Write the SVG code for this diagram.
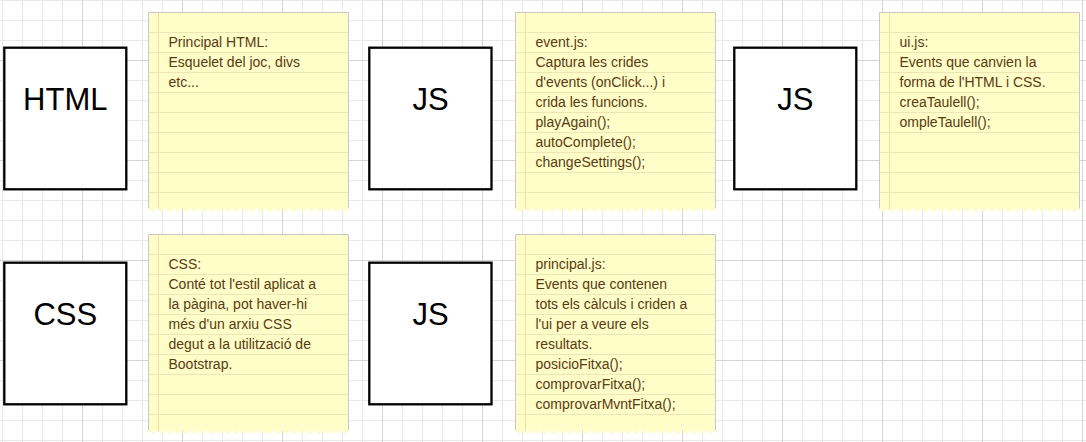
<svg xmlns="http://www.w3.org/2000/svg" width="1086" height="442" viewBox="0 0 1086 442">
<style>
.box{fill:#fff;stroke:#000;stroke-width:2.3}
.lbl{font-family:"Liberation Sans",Arial,sans-serif;font-size:31px;fill:#000;text-anchor:middle}
.paper{fill:#fffdc8}
.edge{fill:none;stroke:#c8c8c8;stroke-width:1}
.rule{stroke:#ece5b4;stroke-width:1}
.margin{stroke:#f7dca8;stroke-width:1}
.txt{font-family:"Liberation Sans",Arial,sans-serif;font-size:14px;fill:#5a3a12}
</style>
<defs>
<pattern id="minor" width="20" height="20" patternUnits="userSpaceOnUse" x="2" y="0">
<path d="M0.5 0V20M0 0.5H20" stroke="#e8e8e8" stroke-width="1" fill="none"/>
</pattern>
<pattern id="major" width="100" height="100" patternUnits="userSpaceOnUse" x="82" y="60">
<path d="M0.5 0V100M0 0.5H100" stroke="#d4d4d4" stroke-width="1" fill="none"/>
</pattern>
<g id="note">
<path class="paper" d="M0 0H200V195.5L195.8 200L191.7 195.5L187.5 200L183.3 195.5L179.2 200L175 195.5L170.8 200L166.7 195.5L162.5 200L158.3 195.5L154.2 200L150 195.5L145.8 200L141.7 195.5L137.5 200L133.3 195.5L129.2 200L125 195.5L120.8 200L116.7 195.5L112.5 200L108.3 195.5L104.2 200L100 195.5L95.8 200L91.7 195.5L87.5 200L83.3 195.5L79.2 200L75 195.5L70.8 200L66.7 195.5L62.5 200L58.3 195.5L54.2 200L50 195.5L45.8 200L41.7 195.5L37.5 200L33.3 195.5L29.2 200L25 195.5L20.8 200L16.7 195.5L12.5 200L8.3 195.5L4.2 200L0 195.5Z"/>
<path class="rule" d="M0 20H200M0 40H200M0 60H200M0 80H200M0 100H200M0 120H200M0 140H200M0 160H200M0 180H200"/>
<path class="margin" d="M10 0V197"/>
<path class="edge" d="M0 196V0H200V196"/>
</g>
</defs>
<rect width="1086" height="442" fill="#fff"/>
<rect width="1086" height="442" fill="url(#minor)"/>
<rect width="1086" height="442" fill="url(#major)"/>

<g id="html">
<rect class="box" x="4.3" y="47.7" width="122" height="141.6"/>
<text class="lbl" x="65.3" y="110">HTML</text>
</g>
<g id="note-html">
<use href="#note" x="148.5" y="12.5"/>
<text class="txt"><tspan x="168.5" y="47">Principal HTML:</tspan><tspan x="168.5" y="67">Esquelet del joc, divs</tspan><tspan x="168.5" y="87">etc...</tspan></text>
</g>

<g id="js-events">
<rect class="box" x="369.3" y="47.7" width="122.2" height="141.6"/>
<text class="lbl" x="430.5" y="110">JS</text>
</g>
<g id="note-events">
<use href="#note" x="515.5" y="12.5"/>
<text class="txt"><tspan x="535.5" y="47">event.js:</tspan><tspan x="535.5" y="67">Captura les crides</tspan><tspan x="535.5" y="87">d'events (onClick...) i</tspan><tspan x="535.5" y="107">crida les funcions.</tspan><tspan x="535.5" y="127">playAgain();</tspan><tspan x="535.5" y="147">autoComplete();</tspan><tspan x="535.5" y="167">changeSettings();</tspan></text>
</g>

<g id="js-ui">
<rect class="box" x="734.3" y="47.7" width="122" height="141.6"/>
<text class="lbl" x="795.3" y="110">JS</text>
</g>
<g id="note-ui">
<use href="#note" x="879.5" y="12.5"/>
<text class="txt"><tspan x="899.5" y="47">ui.js:</tspan><tspan x="899.5" y="67">Events que canvien la</tspan><tspan x="899.5" y="87">forma de l'HTML i CSS.</tspan><tspan x="899.5" y="107">creaTaulell();</tspan><tspan x="899.5" y="127">ompleTaulell();</tspan></text>
</g>

<g id="css">
<rect class="box" x="4.3" y="262.7" width="122" height="141.6"/>
<text class="lbl" x="65.3" y="324.5">CSS</text>
</g>
<g id="note-css">
<use href="#note" x="148.5" y="234.5"/>
<text class="txt"><tspan x="168.5" y="269">CSS:</tspan><tspan x="168.5" y="289">Conté tot l'estil aplicat a</tspan><tspan x="168.5" y="309">la pàgina, pot haver-hi</tspan><tspan x="168.5" y="329">més d'un arxiu CSS</tspan><tspan x="168.5" y="349">degut a la utilització de</tspan><tspan x="168.5" y="369">Bootstrap.</tspan></text>
</g>

<g id="js-principal">
<rect class="box" x="369.3" y="262.7" width="122.2" height="141.6"/>
<text class="lbl" x="430.5" y="324.5">JS</text>
</g>
<g id="note-principal">
<use href="#note" x="515.5" y="234.5"/>
<text class="txt"><tspan x="535.5" y="269">principal.js:</tspan><tspan x="535.5" y="289">Events que contenen</tspan><tspan x="535.5" y="309">tots els càlculs i criden a</tspan><tspan x="535.5" y="329">l'ui per a veure els</tspan><tspan x="535.5" y="349">resultats.</tspan><tspan x="535.5" y="369">posicioFitxa();</tspan><tspan x="535.5" y="389">comprovarFitxa();</tspan><tspan x="535.5" y="409">comprovarMvntFitxa();</tspan></text>
</g>

<g id="connectors"></g>
</svg>
